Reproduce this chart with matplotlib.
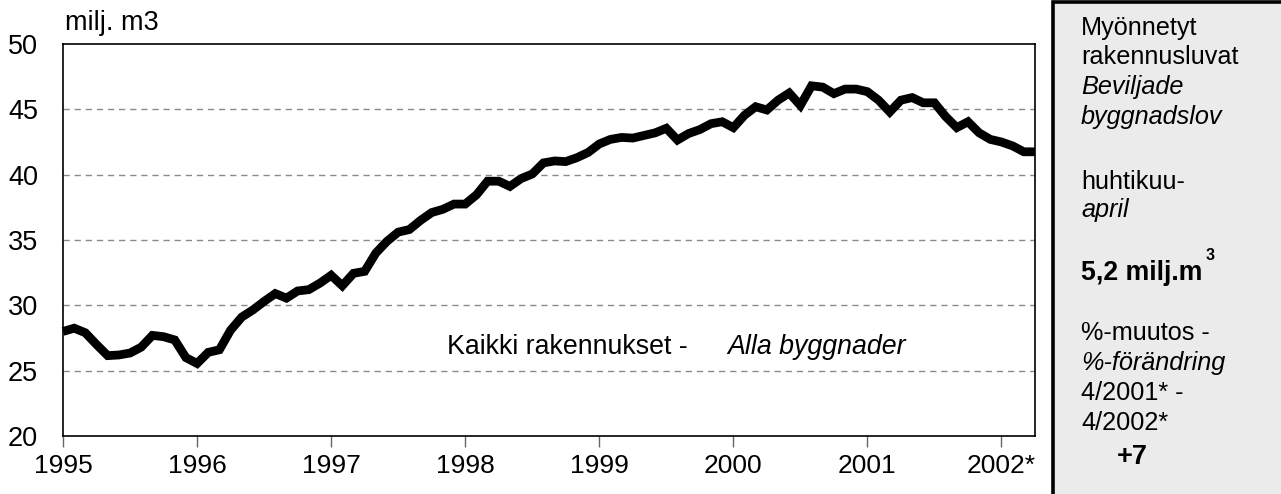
import matplotlib
matplotlib.use("Agg")
import matplotlib.pyplot as plt
from matplotlib.patches import Rectangle

plt.rcParams['font.family'] = ['Liberation Sans', 'DejaVu Sans']

# Monthly permits, Jan 1995 - Apr 2002 (milj. m3, moving sum)
values = [
    28.0, 28.25, 27.9, 27.0, 26.15, 26.2, 26.35, 26.8, 27.7, 27.6, 27.35, 26.0,
    25.55, 26.4, 26.6, 28.1, 29.1, 29.65, 30.3, 30.9, 30.55, 31.1, 31.2, 31.7,
    32.3, 31.5, 32.45, 32.6, 34.0, 34.9, 35.6, 35.8, 36.5, 37.1, 37.35, 37.75,
    37.75, 38.45, 39.5, 39.5, 39.1, 39.7, 40.05, 40.9, 41.05, 41.0, 41.3, 41.7,
    42.35, 42.7, 42.85, 42.8, 43.0, 43.2, 43.55, 42.65, 43.15, 43.45, 43.9, 44.05,
    43.6, 44.55, 45.2, 44.95, 45.7, 46.25, 45.3, 46.8, 46.7, 46.2, 46.55, 46.55,
    46.35, 45.7, 44.8, 45.7, 45.9, 45.5, 45.5, 44.45, 43.6, 44.05, 43.2, 42.7,
    42.5, 42.2, 41.75, 41.75,
]
months = list(range(len(values)))
year_labels = ["1995", "1996", "1997", "1998", "1999", "2000", "2001", "2002*"]
year_pos = [12 * i for i in range(len(year_labels))]
y_ticks = [20, 25, 30, 35, 40, 45, 50]

W, H = 1281, 494
fig = plt.figure(figsize=(W / 100, H / 100), dpi=100)
ax = fig.add_axes([63 / W, 1 - 436 / H, (1035 - 63) / W, (436 - 44) / H])

for y in [25, 30, 35, 40, 45]:
    ax.axhline(y, color="#8a8a8a", lw=1.0, dashes=(4.5, 3.5), zorder=1)

ax.plot(months, values, color="black", lw=6.3, solid_joinstyle="miter",
        solid_capstyle="butt", clip_on=False, zorder=3)

ax.set_xlim(0, 87)
ax.set_ylim(20, 50)
ax.set_xticks(year_pos)
ax.set_xticklabels(year_labels, fontsize=19)
ax.set_yticks(y_ticks)
ax.set_yticklabels([str(v) for v in y_ticks], fontsize=19.5)
ax.tick_params(axis="x", direction="out", length=8, width=1, color="#666666", pad=5)
ax.tick_params(axis="y", length=0, pad=18)
for s in ax.spines.values():
    s.set_linewidth(1.2)
    s.set_color("black")

fig.text(65 / W, 1 - 23 / H, "milj. m3", fontsize=19.5, va="center", ha="left")
fig.text(447 / W, 1 - 347 / H, "Kaikki rakennukset -", fontsize=19.3,
         va="center", ha="left")
fig.text(727 / W, 1 - 347 / H, "Alla byggnader", fontsize=19.3, style="italic",
         va="center", ha="left")

# side info box
box = Rectangle((1053 / W, -0.05), 0.2, 1 - 1.5 / H + 0.05, transform=fig.transFigure,
                facecolor="#ebebeb", edgecolor="black", lw=2.6, clip_on=False)
fig.patches.append(box)

tx = 1081 / W
lines = [
    ("Myönnetyt", 28, "normal"),
    ("rakennusluvat", 57, "normal"),
    ("Beviljade", 87, "italic"),
    ("byggnadslov", 117, "italic"),
    ("huhtikuu-", 182, "normal"),
    ("april", 210, "italic"),
    ("%-muutos -", 333, "normal"),
    ("%-förändring", 363, "italic"),
    ("4/2001* -", 393, "normal"),
    ("4/2002*", 423, "normal"),
]
for txt, yy, st in lines:
    fig.text(tx, 1 - yy / H, txt, fontsize=18.2, style=st, va="center", ha="left")

fig.text(tx, 1 - 273 / H, "5,2 milj.m", fontsize=19.2, weight="bold", va="center", ha="left")
fig.text(1206 / W, 1 - 256 / H, "3", fontsize=11.5, weight="bold", va="center", ha="left")
fig.text(1117 / W, 1 - 457 / H, "+7", fontsize=19.5, weight="bold", va="center", ha="left")

fig.savefig("out.png", dpi=100)
